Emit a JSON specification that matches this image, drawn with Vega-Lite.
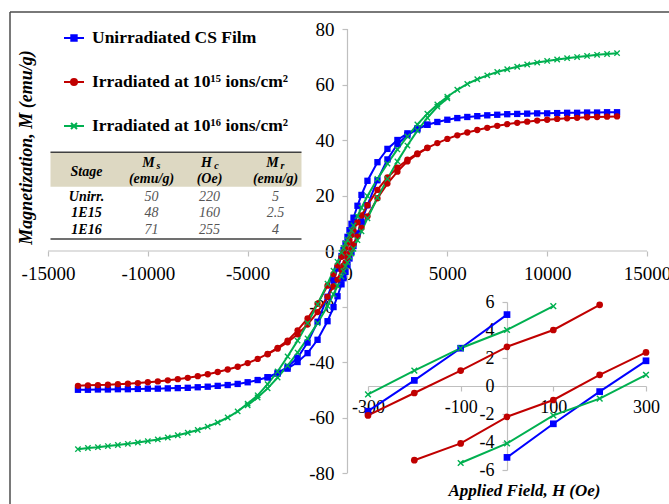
{
"$schema": "https://vega.github.io/schema/vega-lite/v6.json",
"width": 659, "height": 492,
"autosize": {"type": "none"},
"padding": {"left": 10, "top": 12, "right": 0, "bottom": 0},
"background": "white",
"config": {
  "font": "Liberation Serif",
  "view": {"stroke": null},
  "axis": {"grid": false, "labelFont": "Liberation Serif", "titleFont": "Liberation Serif", "labelColor": "#000", "titleColor": "#000", "domainColor": "#bfbfbf", "tickColor": "#bfbfbf", "domainWidth": 1.2, "tickWidth": 1.2},
  "legend": {"orient": "none", "legendX": 53, "legendY": 15, "title": null, "padding": 0, "symbolSize": 400, "symbolStrokeWidth": 2, "symbolOpacity": 1, "rowPadding": 24, "labelOffset": 7, "labelLimit": 400, "labelFont": "Liberation Serif", "labelFontWeight": "bold", "labelFontSize": 17.5, "labelColor": "#000"},
  "text": {"font": "Liberation Serif"}
},
"datasets": {
  "loops": [
{"s":"U","b":"d","h":13500,"m":50.0},{"s":"U","b":"d","h":13000,"m":50.0},{"s":"U","b":"d","h":12500,"m":49.9},{"s":"U","b":"d","h":12000,"m":49.9},{"s":"U","b":"d","h":11500,"m":49.8},{"s":"U","b":"d","h":11000,"m":49.8},{"s":"U","b":"d","h":10500,"m":49.7},{"s":"U","b":"d","h":10000,"m":49.6},{"s":"U","b":"d","h":9500,"m":49.6},{"s":"U","b":"d","h":9000,"m":49.5},{"s":"U","b":"d","h":8500,"m":49.4},{"s":"U","b":"d","h":8000,"m":49.3},{"s":"U","b":"d","h":7500,"m":49.1},{"s":"U","b":"d","h":7000,"m":48.9},{"s":"U","b":"d","h":6500,"m":48.6},{"s":"U","b":"d","h":6000,"m":48.3},{"s":"U","b":"d","h":5500,"m":47.9},{"s":"U","b":"d","h":5000,"m":47.3},{"s":"U","b":"d","h":4500,"m":46.5},{"s":"U","b":"d","h":4000,"m":45.5},{"s":"U","b":"d","h":3500,"m":44.2},{"s":"U","b":"d","h":3000,"m":42.4},{"s":"U","b":"d","h":2500,"m":40.0},{"s":"U","b":"d","h":2000,"m":36.8},{"s":"U","b":"d","h":1500,"m":32.0},{"s":"U","b":"d","h":1000,"m":25.3},{"s":"U","b":"d","h":700,"m":20.2},{"s":"U","b":"d","h":500,"m":16.3},{"s":"U","b":"d","h":300,"m":12.0},{"s":"U","b":"d","h":200,"m":9.8},{"s":"U","b":"d","h":100,"m":7.5},{"s":"U","b":"d","h":0,"m":5.1},{"s":"U","b":"d","h":-100,"m":2.7},{"s":"U","b":"d","h":-200,"m":0.4},{"s":"U","b":"d","h":-300,"m":-1.8},{"s":"U","b":"d","h":-500,"m":-6.3},{"s":"U","b":"d","h":-700,"m":-10.6},{"s":"U","b":"d","h":-1000,"m":-16.5},{"s":"U","b":"d","h":-1500,"m":-25.5},{"s":"U","b":"d","h":-2000,"m":-33.0},{"s":"U","b":"d","h":-2500,"m":-38.5},{"s":"U","b":"d","h":-3000,"m":-41.8},{"s":"U","b":"d","h":-3500,"m":-43.9},{"s":"U","b":"d","h":-4000,"m":-45.5},{"s":"U","b":"d","h":-4500,"m":-46.5},{"s":"U","b":"d","h":-5000,"m":-47.3},{"s":"U","b":"d","h":-5500,"m":-47.9},{"s":"U","b":"d","h":-6000,"m":-48.3},{"s":"U","b":"d","h":-6500,"m":-48.6},{"s":"U","b":"d","h":-7000,"m":-48.9},{"s":"U","b":"d","h":-7500,"m":-49.1},{"s":"U","b":"d","h":-8000,"m":-49.3},{"s":"U","b":"d","h":-8500,"m":-49.4},{"s":"U","b":"d","h":-9000,"m":-49.5},{"s":"U","b":"d","h":-9500,"m":-49.6},{"s":"U","b":"d","h":-10000,"m":-49.6},{"s":"U","b":"d","h":-10500,"m":-49.7},{"s":"U","b":"d","h":-11000,"m":-49.8},{"s":"U","b":"d","h":-11500,"m":-49.8},{"s":"U","b":"d","h":-12000,"m":-49.9},{"s":"U","b":"d","h":-12500,"m":-49.9},{"s":"U","b":"d","h":-13000,"m":-50.0},{"s":"U","b":"d","h":-13500,"m":-50.0},
{"s":"U","b":"a","h":4000,"m":45.5},{"s":"U","b":"a","h":3500,"m":43.9},{"s":"U","b":"a","h":3000,"m":41.8},{"s":"U","b":"a","h":2500,"m":38.5},{"s":"U","b":"a","h":2000,"m":33.0},{"s":"U","b":"a","h":1500,"m":25.5},{"s":"U","b":"a","h":1000,"m":16.5},{"s":"U","b":"a","h":700,"m":10.6},{"s":"U","b":"a","h":500,"m":6.3},{"s":"U","b":"a","h":300,"m":1.8},{"s":"U","b":"a","h":200,"m":-0.4},{"s":"U","b":"a","h":100,"m":-2.7},{"s":"U","b":"a","h":0,"m":-5.1},{"s":"U","b":"a","h":-100,"m":-7.5},{"s":"U","b":"a","h":-200,"m":-9.8},{"s":"U","b":"a","h":-300,"m":-12.0},{"s":"U","b":"a","h":-500,"m":-16.3},{"s":"U","b":"a","h":-700,"m":-20.2},{"s":"U","b":"a","h":-1000,"m":-25.3},{"s":"U","b":"a","h":-1500,"m":-32.0},{"s":"U","b":"a","h":-2000,"m":-36.8},{"s":"U","b":"a","h":-2500,"m":-40.0},{"s":"U","b":"a","h":-3000,"m":-42.4},{"s":"U","b":"a","h":-3500,"m":-44.2},{"s":"U","b":"a","h":-4000,"m":-45.5},
{"s":"R","b":"d","h":13500,"m":48.5},{"s":"R","b":"d","h":13000,"m":48.4},{"s":"R","b":"d","h":12500,"m":48.3},{"s":"R","b":"d","h":12000,"m":48.2},{"s":"R","b":"d","h":11500,"m":48.0},{"s":"R","b":"d","h":11000,"m":47.8},{"s":"R","b":"d","h":10500,"m":47.6},{"s":"R","b":"d","h":10000,"m":47.3},{"s":"R","b":"d","h":9500,"m":47.0},{"s":"R","b":"d","h":9000,"m":46.6},{"s":"R","b":"d","h":8500,"m":46.2},{"s":"R","b":"d","h":8000,"m":45.7},{"s":"R","b":"d","h":7500,"m":45.1},{"s":"R","b":"d","h":7000,"m":44.4},{"s":"R","b":"d","h":6500,"m":43.6},{"s":"R","b":"d","h":6000,"m":42.7},{"s":"R","b":"d","h":5500,"m":41.7},{"s":"R","b":"d","h":5000,"m":40.4},{"s":"R","b":"d","h":4500,"m":38.9},{"s":"R","b":"d","h":4000,"m":37.2},{"s":"R","b":"d","h":3500,"m":35.2},{"s":"R","b":"d","h":3000,"m":32.9},{"s":"R","b":"d","h":2500,"m":30.0},{"s":"R","b":"d","h":2000,"m":26.5},{"s":"R","b":"d","h":1500,"m":22.0},{"s":"R","b":"d","h":1000,"m":16.5},{"s":"R","b":"d","h":700,"m":12.8},{"s":"R","b":"d","h":500,"m":10.3},{"s":"R","b":"d","h":300,"m":7.4},{"s":"R","b":"d","h":200,"m":5.8},{"s":"R","b":"d","h":100,"m":4.0},{"s":"R","b":"d","h":0,"m":2.8},{"s":"R","b":"d","h":-100,"m":1.1},{"s":"R","b":"d","h":-200,"m":-0.5},{"s":"R","b":"d","h":-300,"m":-2.1},{"s":"R","b":"d","h":-500,"m":-5.2},{"s":"R","b":"d","h":-700,"m":-8.3},{"s":"R","b":"d","h":-1000,"m":-12.5},{"s":"R","b":"d","h":-1500,"m":-19.0},{"s":"R","b":"d","h":-2000,"m":-24.3},{"s":"R","b":"d","h":-2500,"m":-28.6},{"s":"R","b":"d","h":-3000,"m":-32.3},{"s":"R","b":"d","h":-3500,"m":-34.9},{"s":"R","b":"d","h":-4000,"m":-37.1},{"s":"R","b":"d","h":-4500,"m":-38.9},{"s":"R","b":"d","h":-5000,"m":-40.4},{"s":"R","b":"d","h":-5500,"m":-41.7},{"s":"R","b":"d","h":-6000,"m":-42.7},{"s":"R","b":"d","h":-6500,"m":-43.6},{"s":"R","b":"d","h":-7000,"m":-44.4},{"s":"R","b":"d","h":-7500,"m":-45.1},{"s":"R","b":"d","h":-8000,"m":-45.7},{"s":"R","b":"d","h":-8500,"m":-46.2},{"s":"R","b":"d","h":-9000,"m":-46.6},{"s":"R","b":"d","h":-9500,"m":-47.0},{"s":"R","b":"d","h":-10000,"m":-47.3},{"s":"R","b":"d","h":-10500,"m":-47.6},{"s":"R","b":"d","h":-11000,"m":-47.8},{"s":"R","b":"d","h":-11500,"m":-48.0},{"s":"R","b":"d","h":-12000,"m":-48.2},{"s":"R","b":"d","h":-12500,"m":-48.3},{"s":"R","b":"d","h":-13000,"m":-48.4},{"s":"R","b":"d","h":-13500,"m":-48.6},
{"s":"R","b":"a","h":4000,"m":37.1},{"s":"R","b":"a","h":3500,"m":34.9},{"s":"R","b":"a","h":3000,"m":32.3},{"s":"R","b":"a","h":2500,"m":28.6},{"s":"R","b":"a","h":2000,"m":24.3},{"s":"R","b":"a","h":1500,"m":19.0},{"s":"R","b":"a","h":1000,"m":12.5},{"s":"R","b":"a","h":700,"m":8.3},{"s":"R","b":"a","h":500,"m":5.2},{"s":"R","b":"a","h":300,"m":2.4},{"s":"R","b":"a","h":200,"m":0.8},{"s":"R","b":"a","h":100,"m":-1.0},{"s":"R","b":"a","h":0,"m":-2.2},{"s":"R","b":"a","h":-100,"m":-4.1},{"s":"R","b":"a","h":-200,"m":-5.3},{"s":"R","b":"a","h":-300,"m":-6.8},{"s":"R","b":"a","h":-500,"m":-10.3},{"s":"R","b":"a","h":-700,"m":-12.8},{"s":"R","b":"a","h":-1000,"m":-16.5},{"s":"R","b":"a","h":-1500,"m":-22.0},{"s":"R","b":"a","h":-2000,"m":-26.5},{"s":"R","b":"a","h":-2500,"m":-30.0},{"s":"R","b":"a","h":-3000,"m":-32.9},{"s":"R","b":"a","h":-3500,"m":-35.2},{"s":"R","b":"a","h":-4000,"m":-37.2},
{"s":"G","b":"d","h":13500,"m":71.3},{"s":"G","b":"d","h":13000,"m":71.0},{"s":"G","b":"d","h":12500,"m":70.7},{"s":"G","b":"d","h":12000,"m":70.3},{"s":"G","b":"d","h":11500,"m":69.9},{"s":"G","b":"d","h":11000,"m":69.5},{"s":"G","b":"d","h":10500,"m":69.0},{"s":"G","b":"d","h":10000,"m":68.5},{"s":"G","b":"d","h":9500,"m":67.9},{"s":"G","b":"d","h":9000,"m":67.2},{"s":"G","b":"d","h":8500,"m":66.4},{"s":"G","b":"d","h":8000,"m":65.5},{"s":"G","b":"d","h":7500,"m":64.5},{"s":"G","b":"d","h":7000,"m":63.3},{"s":"G","b":"d","h":6500,"m":61.9},{"s":"G","b":"d","h":6000,"m":60.2},{"s":"G","b":"d","h":5500,"m":58.1},{"s":"G","b":"d","h":5000,"m":55.6},{"s":"G","b":"d","h":4500,"m":52.8},{"s":"G","b":"d","h":4000,"m":49.5},{"s":"G","b":"d","h":3500,"m":45.6},{"s":"G","b":"d","h":3000,"m":41.3},{"s":"G","b":"d","h":2500,"m":36.6},{"s":"G","b":"d","h":2000,"m":31.5},{"s":"G","b":"d","h":1500,"m":26.0},{"s":"G","b":"d","h":1000,"m":19.8},{"s":"G","b":"d","h":700,"m":15.6},{"s":"G","b":"d","h":500,"m":12.6},{"s":"G","b":"d","h":300,"m":9.2},{"s":"G","b":"d","h":200,"m":7.4},{"s":"G","b":"d","h":100,"m":5.7},{"s":"G","b":"d","h":0,"m":4.0},{"s":"G","b":"d","h":-100,"m":2.7},{"s":"G","b":"d","h":-200,"m":1.1},{"s":"G","b":"d","h":-300,"m":-0.6},{"s":"G","b":"d","h":-500,"m":-3.9},{"s":"G","b":"d","h":-700,"m":-7.1},{"s":"G","b":"d","h":-1000,"m":-11.8},{"s":"G","b":"d","h":-1500,"m":-19.2},{"s":"G","b":"d","h":-2000,"m":-26.0},{"s":"G","b":"d","h":-2500,"m":-32.3},{"s":"G","b":"d","h":-3000,"m":-38.0},{"s":"G","b":"d","h":-3500,"m":-43.4},{"s":"G","b":"d","h":-4000,"m":-48.0},{"s":"G","b":"d","h":-4500,"m":-52.0},{"s":"G","b":"d","h":-5000,"m":-55.0},{"s":"G","b":"d","h":-5500,"m":-57.8},{"s":"G","b":"d","h":-6000,"m":-60.0},{"s":"G","b":"d","h":-6500,"m":-61.8},{"s":"G","b":"d","h":-7000,"m":-63.3},{"s":"G","b":"d","h":-7500,"m":-64.5},{"s":"G","b":"d","h":-8000,"m":-65.5},{"s":"G","b":"d","h":-8500,"m":-66.4},{"s":"G","b":"d","h":-9000,"m":-67.2},{"s":"G","b":"d","h":-9500,"m":-67.9},{"s":"G","b":"d","h":-10000,"m":-68.5},{"s":"G","b":"d","h":-10500,"m":-69.0},{"s":"G","b":"d","h":-11000,"m":-69.5},{"s":"G","b":"d","h":-11500,"m":-69.9},{"s":"G","b":"d","h":-12000,"m":-70.3},{"s":"G","b":"d","h":-12500,"m":-70.7},{"s":"G","b":"d","h":-13000,"m":-71.0},{"s":"G","b":"d","h":-13500,"m":-71.4},
{"s":"G","b":"a","h":5000,"m":55.0},{"s":"G","b":"a","h":4500,"m":52.0},{"s":"G","b":"a","h":4000,"m":48.0},{"s":"G","b":"a","h":3500,"m":43.4},{"s":"G","b":"a","h":3000,"m":38.0},{"s":"G","b":"a","h":2500,"m":32.3},{"s":"G","b":"a","h":2000,"m":26.0},{"s":"G","b":"a","h":1500,"m":19.2},{"s":"G","b":"a","h":1000,"m":11.8},{"s":"G","b":"a","h":700,"m":7.1},{"s":"G","b":"a","h":500,"m":3.9},{"s":"G","b":"a","h":300,"m":0.8},{"s":"G","b":"a","h":200,"m":-0.9},{"s":"G","b":"a","h":100,"m":-2.1},{"s":"G","b":"a","h":0,"m":-4.1},{"s":"G","b":"a","h":-100,"m":-5.5},{"s":"G","b":"a","h":-200,"m":-7.3},{"s":"G","b":"a","h":-300,"m":-9.2},{"s":"G","b":"a","h":-500,"m":-12.6},{"s":"G","b":"a","h":-700,"m":-15.6},{"s":"G","b":"a","h":-1000,"m":-19.8},{"s":"G","b":"a","h":-1500,"m":-26.0},{"s":"G","b":"a","h":-2000,"m":-31.5},{"s":"G","b":"a","h":-2500,"m":-36.6},{"s":"G","b":"a","h":-3000,"m":-41.3},{"s":"G","b":"a","h":-3500,"m":-45.6},{"s":"G","b":"a","h":-4000,"m":-49.5},{"s":"G","b":"a","h":-4500,"m":-52.8},{"s":"G","b":"a","h":-5000,"m":-55.6}
  ],
  "tbl": [
    {"stage": "Unirr.", "Ms": 50, "Hc": 220, "Mr": 5},
    {"stage": "1E15", "Ms": 48, "Hc": 160, "Mr": 2.5},
    {"stage": "1E16", "Ms": 71, "Hc": 255, "Mr": 4}
  ]
},
"layer": [
  {
    "layer": [
      {"data": {"name": "loops"}, "transform": [{"filter": "datum.h == 13500 && datum.b == 'd'"}],
       "mark": {"type": "point", "filled": true, "size": 1, "opacity": 1},
       "encoding": {
         "x": {"field": "h", "type": "quantitative", "scale": {"domain": [-16903, 16102], "nice": false, "zero": false},
           "axis": {"values": [-15000, -10000, -5000, 0, 5000, 10000, 15000], "offset": -253, "domain": false, "tickSize": 5, "labelFontSize": 19, "labelPadding": 8, "labelExpr": "'' + datum.value", "labelFlush": false, "labelOverlap": false,
             "title": "Applied Field, H (Oe)", "titleX": 514, "titleY": 239, "titleAlign": "center", "titleBaseline": "middle", "titleAngle": 0, "titleFontSize": 17, "titleFontStyle": "italic", "titleFontWeight": "bold"}},
         "y": {"field": "m", "type": "quantitative", "scale": {"domain": [-91.17, 86.13], "nice": false, "zero": false},
           "axis": {"values": [-80, -60, -40, -20, 0, 20, 40, 60, 80], "offset": -337, "domain": false, "tickSize": 5, "labelFontSize": 19, "labelPadding": 8, "labelExpr": "'' + datum.value", "labelFlush": false, "labelOverlap": false,
             "title": "Magnetization, M (emu/g)", "titleX": -321, "titleY": 135, "titleAngle": 270, "titleAlign": "center", "titleBaseline": "middle", "titleFontSize": 18, "titleFontStyle": "italic", "titleFontWeight": "bold"}},
         "color": {"field": "s", "type": "nominal", "scale": {"domain": ["U", "R", "G"], "range": ["#0000ff", "#c00000", "#00b050"]},
           "legend": {"values": ["U", "R", "G"], "labelExpr": "datum.value == 'U' ? 'Unirradiated CS Film' : datum.value == 'R' ? 'Irradiated at 10¹⁵ ions/cm²' : 'Irradiated at 10¹⁶ ions/cm²'"}},
         "stroke": {"field": "s", "type": "nominal", "scale": {"domain": ["U", "R", "G"], "range": ["#0000ff", "#c00000", "#00b050"]},
           "legend": {"values": ["U", "R", "G"], "labelExpr": "datum.value == 'U' ? 'Unirradiated CS Film' : datum.value == 'R' ? 'Irradiated at 10¹⁵ ions/cm²' : 'Irradiated at 10¹⁶ ions/cm²'"}},
         "shape": {"field": "s", "type": "nominal",
           "scale": {"domain": ["U", "R", "G"], "range": ["M-1,0H1M-0.27,-0.27H0.27V0.27H-0.27Z", "M-1,0H1M-0.3,0A0.3,0.3,0,1,0,0.3,0A0.3,0.3,0,1,0,-0.3,0Z", "M-1,0H1M-0.3,-0.3L0.3,0.3M-0.3,0.3L0.3,-0.3"]},
           "legend": {"values": ["U", "R", "G"], "labelExpr": "datum.value == 'U' ? 'Unirradiated CS Film' : datum.value == 'R' ? 'Irradiated at 10¹⁵ ions/cm²' : 'Irradiated at 10¹⁶ ions/cm²'"}}}},
      {"data": {"name": "loops"},
       "mark": {"type": "line", "strokeWidth": 2},
       "encoding": {
         "x": {"field": "h", "type": "quantitative"},
         "y": {"field": "m", "type": "quantitative"},
         "color": {"field": "s", "type": "nominal", "legend": null},
         "detail": {"field": "b", "type": "nominal"}}},
      {"data": {"values": [{}]}, "mark": {"type": "rule", "color": "#4d4d4d", "strokeWidth": 1.5},
       "encoding": {"x": {"datum": -16903}, "x2": {"datum": 16102}, "y": {"datum": 86.13}}},
      {"data": {"values": [{}]}, "mark": {"type": "rule", "color": "#4d4d4d", "strokeWidth": 1.5},
       "encoding": {"x": {"datum": -16903}, "y": {"datum": -91.17}, "y2": {"datum": 86.13}}},
      {"data": {"values": [{}]}, "mark": {"type": "rule", "color": "#bfbfbf", "strokeWidth": 1.2},
       "encoding": {"x": {"datum": -15000}, "x2": {"datum": 15000}, "y": {"datum": 0}}},
      {"data": {"values": [{}]}, "mark": {"type": "rule", "color": "#bfbfbf", "strokeWidth": 1.2},
       "encoding": {"x": {"datum": 0}, "y": {"datum": -80}, "y2": {"datum": 80}}},
      {"data": {"values": [{}]}, "mark": {"type": "rect", "color": "#ddd8c2"},
       "encoding": {"x": {"datum": -14875}, "x2": {"datum": -2304}, "y": {"datum": 35.6}, "y2": {"datum": 23.2}}},
      {"data": {"values": [{}]}, "mark": {"type": "rule", "color": "#404040", "strokeWidth": 1.5},
       "encoding": {"x": {"datum": -14875}, "x2": {"datum": -2304}, "y": {"datum": 35.6}}},
      {"data": {"values": [{}]}, "mark": {"type": "rule", "color": "#404040", "strokeWidth": 1.5},
       "encoding": {"x": {"datum": -14875}, "x2": {"datum": -2304}, "y": {"datum": 4.3}}},
      {"data": {"values": [{}]}, "mark": {"type": "text", "text": "Stage", "fontSize": 14, "fontStyle": "italic", "fontWeight": "bold", "color": "#000"},
       "encoding": {"x": {"datum": -13072}, "y": {"datum": 28.6}}},
      {"data": {"values": [{}]}, "mark": {"type": "text", "text": "M", "fontSize": 14, "fontStyle": "italic", "fontWeight": "bold", "color": "#000", "dx": -3},
       "encoding": {"x": {"datum": -9816}, "y": {"datum": 31.8}}},
      {"data": {"values": [{}]}, "mark": {"type": "text", "text": "s", "fontSize": 10, "fontStyle": "italic", "fontWeight": "bold", "color": "#000", "dx": 7, "dy": 3},
       "encoding": {"x": {"datum": -9816}, "y": {"datum": 31.8}}},
      {"data": {"values": [{}]}, "mark": {"type": "text", "text": "(emu/g)", "fontSize": 14, "fontStyle": "italic", "fontWeight": "bold", "color": "#000"},
       "encoding": {"x": {"datum": -9816}, "y": {"datum": 26.0}}},
      {"data": {"values": [{}]}, "mark": {"type": "text", "text": "H", "fontSize": 14, "fontStyle": "italic", "fontWeight": "bold", "color": "#000", "dx": -3},
       "encoding": {"x": {"datum": -6911}, "y": {"datum": 31.8}}},
      {"data": {"values": [{}]}, "mark": {"type": "text", "text": "c", "fontSize": 10, "fontStyle": "italic", "fontWeight": "bold", "color": "#000", "dx": 7, "dy": 3},
       "encoding": {"x": {"datum": -6911}, "y": {"datum": 31.8}}},
      {"data": {"values": [{}]}, "mark": {"type": "text", "text": "(Oe)", "fontSize": 14, "fontStyle": "italic", "fontWeight": "bold", "color": "#000"},
       "encoding": {"x": {"datum": -6911}, "y": {"datum": 26.0}}},
      {"data": {"values": [{}]}, "mark": {"type": "text", "text": "M", "fontSize": 14, "fontStyle": "italic", "fontWeight": "bold", "color": "#000", "dx": -3},
       "encoding": {"x": {"datum": -3606}, "y": {"datum": 31.8}}},
      {"data": {"values": [{}]}, "mark": {"type": "text", "text": "r", "fontSize": 10, "fontStyle": "italic", "fontWeight": "bold", "color": "#000", "dx": 7, "dy": 3},
       "encoding": {"x": {"datum": -3606}, "y": {"datum": 31.8}}},
      {"data": {"values": [{}]}, "mark": {"type": "text", "text": "(emu/g)", "fontSize": 14, "fontStyle": "italic", "fontWeight": "bold", "color": "#000"},
       "encoding": {"x": {"datum": -3606}, "y": {"datum": 26.0}}},
      {"data": {"name": "loops"}, "transform": [{"filter": "datum.s == 'U'"}],
       "mark": {"type": "point", "shape": "square", "filled": true, "size": 40, "opacity": 1},
       "encoding": {"x": {"field": "h", "type": "quantitative"}, "y": {"field": "m", "type": "quantitative"}, "color": {"field": "s", "type": "nominal", "legend": null}}},
      {"data": {"name": "loops"}, "transform": [{"filter": "datum.s == 'R'"}],
       "mark": {"type": "point", "shape": "circle", "filled": true, "size": 40, "opacity": 1},
       "encoding": {"x": {"field": "h", "type": "quantitative"}, "y": {"field": "m", "type": "quantitative"}, "color": {"field": "s", "type": "nominal", "legend": null}}},
      {"data": {"name": "loops"}, "transform": [{"filter": "datum.s == 'G'"}],
       "mark": {"type": "point", "shape": "M-1,-0.7L-0.7,-1L0,-0.3L0.7,-1L1,-0.7L0.3,0L1,0.7L0.7,1L0,0.3L-0.7,1L-1,0.7L-0.3,0Z", "filled": true, "size": 40, "opacity": 1},
       "encoding": {"x": {"field": "h", "type": "quantitative"}, "y": {"field": "m", "type": "quantitative"}, "color": {"field": "s", "type": "nominal", "legend": null}}}
    ]
  },
  {
    "data": {"name": "tbl"},
    "encoding": {
      "y": {"field": "stage", "type": "nominal", "scale": {"type": "point", "domain": ["Unirr.", "1E15", "1E16"], "range": [184.7, 218], "padding": 0}, "axis": null}
    },
    "layer": [
      {"mark": {"type": "text", "fontSize": 14, "fontStyle": "italic", "fontWeight": "bold", "color": "#000"},
       "encoding": {"x": {"datum": -13072, "type": "quantitative", "scale": {"domain": [-16903, 16102], "nice": false, "zero": false}, "axis": null}, "text": {"field": "stage"}}},
      {"mark": {"type": "text", "fontSize": 14, "fontStyle": "italic", "color": "#555555"},
       "encoding": {"x": {"datum": -9816}, "text": {"field": "Ms", "type": "quantitative"}}},
      {"mark": {"type": "text", "fontSize": 14, "fontStyle": "italic", "color": "#555555"},
       "encoding": {"x": {"datum": -6911}, "text": {"field": "Hc", "type": "quantitative"}}},
      {"mark": {"type": "text", "fontSize": 14, "fontStyle": "italic", "color": "#555555"},
       "encoding": {"x": {"datum": -3606}, "text": {"field": "Mr", "type": "quantitative"}}}
    ]
  },
  {
    "data": {"name": "loops"},
    "transform": [{"filter": "datum.h >= -300 && datum.h <= 300 && datum.m >= -6 && datum.m <= 6"}],
    "layer": [
      {"mark": {"type": "line", "strokeWidth": 2},
       "encoding": {
         "x": {"field": "h", "type": "quantitative", "scale": {"domain": [-300, 300], "range": [358, 636], "nice": false, "zero": false},
           "axis": {"orient": "bottom", "offset": -118, "values": [-300, -100, 100, 300], "domain": true, "tickSize": 5, "labelFontSize": 18, "labelPadding": 7, "labelExpr": "'' + datum.value", "labelFlush": false, "labelOverlap": false, "title": null}},
         "y": {"field": "m", "type": "quantitative", "scale": {"domain": [-6, 6], "range": [458, 290], "nice": false, "zero": false},
           "axis": {"orient": "left", "offset": -497, "values": [-6, -4, -2, 0, 2, 4, 6], "domain": true, "tickSize": 5, "labelFontSize": 18, "labelPadding": 8, "labelExpr": "'' + datum.value", "labelFlush": false, "labelOverlap": false, "title": null}},
         "color": {"field": "s", "type": "nominal", "legend": null},
         "detail": {"field": "b", "type": "nominal"}}},
      {"transform": [{"filter": "datum.s == 'U'"}],
       "mark": {"type": "point", "shape": "square", "filled": true, "size": 45, "opacity": 1},
       "encoding": {"x": {"field": "h", "type": "quantitative"}, "y": {"field": "m", "type": "quantitative"}, "color": {"field": "s", "type": "nominal", "legend": null}}},
      {"transform": [{"filter": "datum.s == 'R'"}],
       "mark": {"type": "point", "shape": "circle", "filled": true, "size": 45, "opacity": 1},
       "encoding": {"x": {"field": "h", "type": "quantitative"}, "y": {"field": "m", "type": "quantitative"}, "color": {"field": "s", "type": "nominal", "legend": null}}},
      {"transform": [{"filter": "datum.s == 'G'"}],
       "mark": {"type": "point", "shape": "M-1,-0.7L-0.7,-1L0,-0.3L0.7,-1L1,-0.7L0.3,0L1,0.7L0.7,1L0,0.3L-0.7,1L-1,0.7L-0.3,0Z", "filled": true, "size": 45, "opacity": 1},
       "encoding": {"x": {"field": "h", "type": "quantitative"}, "y": {"field": "m", "type": "quantitative"}, "color": {"field": "s", "type": "nominal", "legend": null}}}
    ]
  }
],
"resolve": {"scale": {"x": "independent", "y": "independent"}}
}
